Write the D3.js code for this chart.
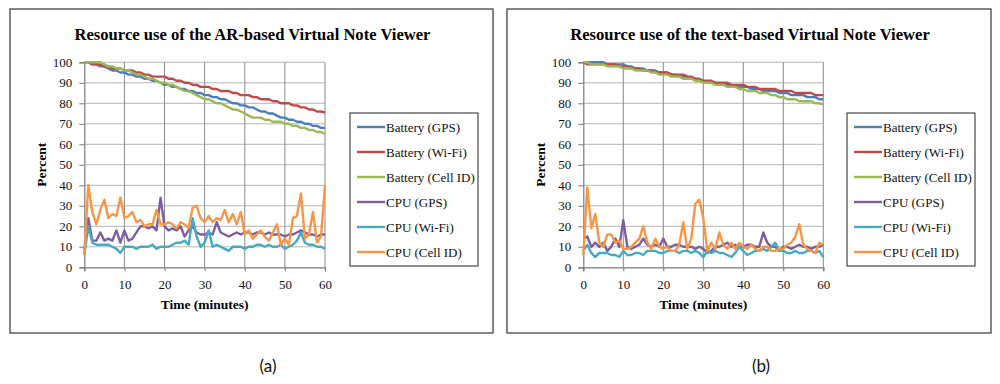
<!DOCTYPE html>
<html><head><meta charset="utf-8">
<script src="https://cdn.jsdelivr.net/npm/d3@7"></script>
<style>body{margin:0;background:#fff}svg{display:block}</style>
</head><body>
<script>
// ---------- data ----------
const minutes = d3.range(0, 61);
const yTicks = [0,10,20,30,40,50,60,70,80,90,100];
const xTicks = [0,10,20,30,40,50,60];
const seriesNames = ["Battery (GPS)","Battery (Wi-Fi)","Battery (Cell ID)","CPU (GPS)","CPU (Wi-Fi)","CPU (Cell ID)"];
const seriesColors = ["#4a7ebb","#be4b48","#98b954","#7d5fa0","#46aac5","#f79646"];
const titleA = "Resource use of the AR-based Virtual Note Viewer";
const titleB = "Resource use of the text-based Virtual Note Viewer";

// Panel (a): AR-based
const aBatteryGPS = [100,100,99,99,98,98,97,96,96,95, 95,94,94,93,93,92,92,91,91,90, 89,89,88,88,87,87,86,86,85,85,
  84,84,83,83,82,82,81,80,80,79, 79,78,78,77,76,76,75,75,74,73, 73,72,72,71,71,70,70,69,69,68, 68];
const aBatteryWiFi = [100,100,99,99,99,98,98,97,97,97, 96,96,96,95,95,94,94,93,93,93, 93,92,92,91,91,90,90,89,89,88,
  88,88,87,87,86,86,86,85,85,84, 84,84,83,83,82,82,82,81,81,80, 80,80,79,79,78,78,77,77,76,76, 75.5];
const aBatteryCell = [100,100,100,100,100,99,98,98,97,97, 96,96,95,94,94,93,92,92,91,90, 90,89,89,88,87,86,86,85,84,83,
  82,82,81,80,80,79,78,77,77,76, 75,74,73,73,73,72,72,71,71,71, 70,70,69,69,68,68,67,67,66,66, 65];
const aCpuGPS = [8,24,13,13,17,13,14,13,18,12, 18,13,14,17,20,20,19,20,18,34, 20,18,19,18,20,15,18,20,17,16,
  16,17,16,22,17,16,15,16,17,16, 17,17,16,17,17,16,17,16,16,16, 15,16,16,17,18,17,16,16,15,16, 16];
const aCpuWiFi = [6,20,12,11,11,11,11,10,9,7, 10,10,10,9,10,10,10,11,9,10, 10,10,11,12,12,13,11,24,15,10,
  12,18,10,11,10,9,8,10,10,10, 9,10,10,11,11,10,11,10,10,11, 9,10,11,13,17,12,11,11,10,10, 9];
const aCpuCell = [6,40,27,21,28,33,24,26,25,34, 24,25,27,22,23,20,21,21,28,21, 21,22,21,19,22,21,19,29,30,24,
  22,25,22,24,23,28,22,26,21,27, 16,18,14,16,18,15,13,17,21,11, 14,11,24,25,36,14,16,27,12,15, 40];

// Panel (b): text-based
const bBatteryGPS = [100,100,100,100,100,100,99,99,99,99, 99,98,98,97,97,97,96,96,96,95, 95,95,94,94,93,93,93,92,92,91,
  91,90,90,90,89,89,89,89,88,88, 88,88,87,87,87,86,86,86,86,85, 85,85,84,84,84,84,83,83,83,82, 82];
const bBatteryWiFi = [100,99,99,99,99,99,99,99,99,98, 98,98,97,97,97,96,96,96,95,95, 95,95,94,94,94,94,93,93,92,92,
  91,91,91,90,90,90,90,89,89,89, 89,88,88,88,87,87,87,87,87,86, 86,86,86,85,85,85,85,85,84,84, 84];
const bBatteryCell = [100,100,99,99,99,99,98,98,98,98, 97,97,97,96,96,96,96,95,95,94, 94,94,93,93,93,92,92,92,91,91,
  90,90,90,89,89,89,88,88,88,87, 87,86,86,86,85,85,85,84,84,83, 83,82,82,82,81,81,81,81,80,80, 79.5];
const bCpuGPS = [14,15,10,12,10,12,8,10,14,10, 23,10,9,10,11,14,11,10,11,10, 14,10,10,11,11,10,10,10,9,10,
  9,7,8,10,10,11,12,10,11,10, 10,11,11,10,10,17,12,10,10,8, 10,10,9,10,11,10,10,9,10,10, 11];
const bCpuWiFi = [8,11,7,5,7,7,7,6,6,5, 8,6,6,7,7,6,8,8,8,7, 7,8,8,8,7,8,8,7,8,7,
  5,8,7,8,7,7,6,5,7,10, 8,6,7,8,8,9,8,10,12,8, 8,7,7,8,7,7,8,8,7,8, 5];
const bCpuCell = [6,39,19,26,12,10,16,16,12,13, 9,9,10,12,14,20,12,9,14,10, 9,10,8,8,11,22,9,14,31,33,
  24,8,12,9,17,11,9,12,9,12, 10,9,11,9,8,10,10,8,8,9, 9,11,12,15,21,11,9,8,7,12, 11];

const panels = [
  { title: titleA, label: "(a)", frame: [10, 9, 483, 324], plot: [84.3, 325, 62.3, 267.3],
    legend: [350, 113, 128, 153], labelX: 268,
    series: [aBatteryGPS, aBatteryWiFi, aBatteryCell, aCpuGPS, aCpuWiFi, aCpuCell] },
  { title: titleB, label: "(b)", frame: [507, 9, 484, 324], plot: [583.3, 823.3, 62.3, 267.3],
    legend: [847, 113, 128, 153], labelX: 761,
    series: [bBatteryGPS, bBatteryWiFi, bBatteryCell, bCpuGPS, bCpuWiFi, bCpuCell] }
];

// ---------- drawing ----------
const svg = d3.select("body").append("svg").attr("width", 1000).attr("height", 384);
const serif = "'Liberation Serif','Times New Roman',serif";

panels.forEach(p => {
  const g = svg.append("g");
  const [fx, fy, fw, fh] = p.frame;
  g.append("rect").attr("x", fx).attr("y", fy).attr("width", fw).attr("height", fh)
    .attr("fill", "#fff").attr("stroke", "#444").attr("stroke-width", 1.3);

  const [x0, x1, yTop, yBot] = p.plot;
  const x = d3.scaleLinear().domain([0, 60]).range([x0, x1]);
  const y = d3.scaleLinear().domain([0, 100]).range([yBot, yTop]);

  g.append("text").attr("x", (fx + fw / 2) + 1).attr("y", 40).attr("text-anchor", "middle")
    .attr("font-family", serif).attr("font-weight", "bold").attr("font-size", 16.6).text(p.title);

  // horizontal grid
  g.append("g").selectAll("line").data(yTicks.filter(t => t > 0)).join("line")
    .attr("x1", x0).attr("x2", x1).attr("y1", d => y(d)).attr("y2", d => y(d))
    .attr("stroke", "#b5b5b5").attr("stroke-width", 1);
  // vertical grid
  g.append("g").selectAll("line").data(xTicks.filter(t => t > 0)).join("line")
    .attr("x1", d => x(d)).attr("x2", d => x(d)).attr("y1", yTop).attr("y2", yBot)
    .attr("stroke", "#8a8a8a").attr("stroke-width", 1);

  // axes
  const yAxis = d3.axisLeft(y).tickValues(yTicks).tickSize(5).tickPadding(7);
  const ya = g.append("g").attr("transform", `translate(${x0},0)`).call(yAxis);
  const xAxis = d3.axisBottom(x).tickValues(xTicks).tickSize(4).tickPadding(8);
  const xa = g.append("g").attr("transform", `translate(0,${yBot})`).call(xAxis);
  [ya, xa].forEach(a => {
    a.attr("font-family", serif);
    a.select(".domain").attr("stroke", "#7a7a7a").attr("stroke-width", 1.2);
    a.selectAll(".tick line").attr("stroke", "#7a7a7a");
    a.selectAll("text").attr("font-family", serif).attr("font-size", 13).attr("fill", "#111");
  });

  g.append("text").attr("x", (x0 + x1) / 2).attr("y", 309).attr("text-anchor", "middle")
    .attr("font-family", serif).attr("font-weight", "bold").attr("font-size", 13.5).text("Time (minutes)");
  g.append("text").attr("transform", `translate(${x0 - 38},${(yTop + yBot) / 2}) rotate(-90)`)
    .attr("text-anchor", "middle").attr("font-family", serif).attr("font-weight", "bold")
    .attr("font-size", 13.5).text("Percent");

  // lines
  const line = d3.line().x((d, i) => x(minutes[i])).y(d => y(d));
  p.series.forEach((s, i) => {
    g.append("path").datum(s).attr("d", line).attr("fill", "none")
      .attr("stroke", seriesColors[i]).attr("stroke-width", 2.4).attr("stroke-linejoin", "round");
  });

  // legend
  const [lx, ly, lw, lh] = p.legend;
  g.append("rect").attr("x", lx).attr("y", ly).attr("width", lw).attr("height", lh)
    .attr("fill", "#fff").attr("stroke", "#222").attr("stroke-width", 1);
  seriesNames.forEach((n, i) => {
    const yy = ly + 14 + i * 25;
    g.append("line").attr("x1", lx + 7).attr("x2", lx + 35).attr("y1", yy).attr("y2", yy)
      .attr("stroke", seriesColors[i]).attr("stroke-width", 2.4);
    g.append("text").attr("x", lx + 36).attr("y", yy + 4.5).attr("font-family", serif)
      .attr("font-size", 13).attr("fill", "#111").text(n);
  });

  svg.append("text").attr("x", p.labelX).attr("y", 372).attr("text-anchor", "middle")
    .attr("font-family", "Lato, 'Open Sans', sans-serif").attr("font-size", 17).attr("fill", "#111").text(p.label);
});
</script>
</body></html>
